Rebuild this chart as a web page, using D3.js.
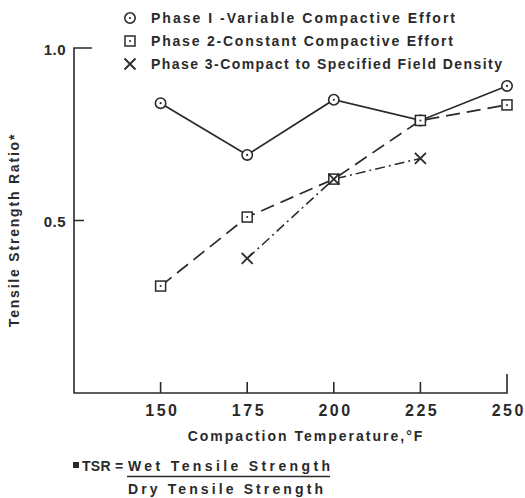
<!DOCTYPE html>
<html>
<head>
<meta charset="utf-8">
<script src="https://cdn.jsdelivr.net/npm/d3@7/dist/d3.min.js"></script>
<style>
  html, body { margin: 0; padding: 0; background: #fff; }
  svg text { font-family: "Liberation Sans", Arial, sans-serif; fill: #2a2a2a; font-weight: bold; }
</style>
</head>
<body>
<svg id="chart" width="525" height="498"></svg>
<script>
// Compaction temperatures (°F) and tensile strength ratios per phase
const temps = [150, 175, 200, 225, 250];
const phase1 = [0.84, 0.69, 0.85, 0.79, 0.89];
const phase2 = [0.31, 0.51, 0.62, 0.79, 0.835];
const phase3Temps = [175, 200, 225];
const phase3 = [0.39, 0.62, 0.68];

const xTicks = [150, 175, 200, 225, 250];
const yTicks = [0.5, 1.0];
const yTickLabels = ["0.5", "1.0"];

const legendLabels = [
  "Phase I -Variable Compactive Effort",
  "Phase 2-Constant Compactive Effort",
  "Phase 3-Compact to Specified Field Density"
];
const legendWidths = [304, 302, 351];

const ink = "#2a2a2a";
const svg = d3.select("#chart");

const x = d3.scaleLinear().domain([125, 250]).range([74, 507]);
const y = d3.scaleLinear().domain([0, 1.0]).range([393, 48]);

// Tick labels from d3 axes
const yAxis = d3.axisLeft(y).tickValues(yTicks).tickSize(0)
  .tickFormat((d, i) => yTickLabels[i]).tickPadding(8);
const gy = svg.append("g").attr("transform", `translate(${x(125)},0)`).call(yAxis);
gy.select(".domain").remove();
gy.selectAll(".tick text").attr("font-size", 15).attr("font-weight", "normal")
  .attr("fill", ink).attr("letter-spacing", 0.5).attr("dy", "0.4em");

const xAxis = d3.axisBottom(x).tickValues(xTicks).tickSize(0).tickPadding(12);
const gx = svg.append("g").attr("transform", `translate(0,${y(0)})`).call(xAxis);
gx.select(".domain").remove();
gx.selectAll(".tick text").attr("font-size", 16).attr("font-weight", "normal")
  .attr("fill", ink).attr("letter-spacing", 2.5).attr("dx", 1.25);

// Frame with inward tick marks; the end ticks are longer
const x0 = x(125), yb = y(0);
let frame = `M${x(250)},${yb - 19}V${yb}H${x0}V${y(1.0)}H${x0 + 18}`;
yTicks.filter(d => d !== 1.0).forEach(d => { frame += `M${x0},${y(d)}H${x0 + 10}`; });
xTicks.filter(d => d !== 250).forEach(d => { frame += `M${x(d)},${yb}V${yb - 11}`; });
svg.append("path").attr("d", frame)
  .attr("fill", "none").attr("stroke", ink).attr("stroke-width", 1.6);

// Series lines
const line = (xs, ys) => d3.line()(xs.map((t, i) => [x(t), y(ys[i])]));

svg.append("path").attr("d", line(temps, phase1))
  .attr("fill", "none").attr("stroke", ink).attr("stroke-width", 1.7);
svg.append("path").attr("d", line(temps, phase2))
  .attr("fill", "none").attr("stroke", ink).attr("stroke-width", 1.7)
  .attr("stroke-dasharray", "14,7");
svg.append("path").attr("d", line(phase3Temps, phase3))
  .attr("fill", "none").attr("stroke", ink).attr("stroke-width", 1.5)
  .attr("stroke-dasharray", "10,4,2,4");

// Markers
function circleMark(g, cx, cy) {
  g.append("circle").attr("cx", cx).attr("cy", cy).attr("r", 5.2)
    .attr("fill", "#fff").attr("stroke", ink).attr("stroke-width", 1.6);
  g.append("circle").attr("cx", cx).attr("cy", cy).attr("r", 1.1).attr("fill", ink);
}
function squareMark(g, cx, cy) {
  g.append("rect").attr("x", cx - 5).attr("y", cy - 5).attr("width", 10).attr("height", 10)
    .attr("fill", "#fff").attr("stroke", ink).attr("stroke-width", 1.5);
  g.append("circle").attr("cx", cx).attr("cy", cy).attr("r", 1).attr("fill", ink);
}
function crossMark(g, cx, cy, s) {
  g.append("path")
    .attr("d", `M${cx - s},${cy - s}L${cx + s},${cy + s}M${cx - s},${cy + s}L${cx + s},${cy - s}`)
    .attr("stroke", ink).attr("stroke-width", 1.8).attr("fill", "none");
}

const marks = svg.append("g");
temps.forEach((t, i) => circleMark(marks, x(t), y(phase1[i])));
temps.forEach((t, i) => squareMark(marks, x(t), y(phase2[i])));
phase3Temps.forEach((t, i) => crossMark(marks, x(t), y(phase3[i]), 5.5));

// Legend
const legendX = 130, legendY = [18, 41, 64];
const lg = svg.append("g");
circleMark(lg, legendX, legendY[0]);
squareMark(lg, legendX, legendY[1]);
crossMark(lg, legendX, legendY[2], 5.5);
legendLabels.forEach((txt, i) => {
  lg.append("text").attr("x", 151).attr("y", legendY[i]).attr("dy", "0.36em")
    .attr("font-size", 14).attr("textLength", legendWidths[i])
    .attr("lengthAdjust", "spacing").text(txt);
});

// Axis titles
svg.append("text")
  .attr("transform", "translate(19,230) rotate(-90)")
  .attr("text-anchor", "middle").attr("font-size", 14).attr("letter-spacing", 1.8)
  .text("Tensile Strength Ratio*");

svg.append("text")
  .attr("x", 306).attr("y", 441).attr("text-anchor", "middle")
  .attr("font-size", 14).attr("letter-spacing", 2.0)
  .text("Compaction Temperature,°F");

// Footnote defining TSR
const fn = svg.append("g");
fn.append("rect").attr("x", 73).attr("y", 462).attr("width", 6).attr("height", 6).attr("fill", ink);
fn.append("text").attr("x", 82).attr("y", 471).attr("font-size", 14).attr("font-weight", "normal")
  .attr("letter-spacing", 0.3).text("TSR =");
fn.append("text").attr("x", 128).attr("y", 471).attr("font-size", 14)
  .attr("textLength", 202).attr("lengthAdjust", "spacing")
  .text("Wet Tensile Strength");
fn.append("line").attr("x1", 127).attr("x2", 330).attr("y1", 476.5).attr("y2", 476.5)
  .attr("stroke", ink).attr("stroke-width", 1.5);
fn.append("text").attr("x", 128).attr("y", 494).attr("font-size", 14)
  .attr("textLength", 195).attr("lengthAdjust", "spacing")
  .text("Dry Tensile Strength");
</script>
</body>
</html>
